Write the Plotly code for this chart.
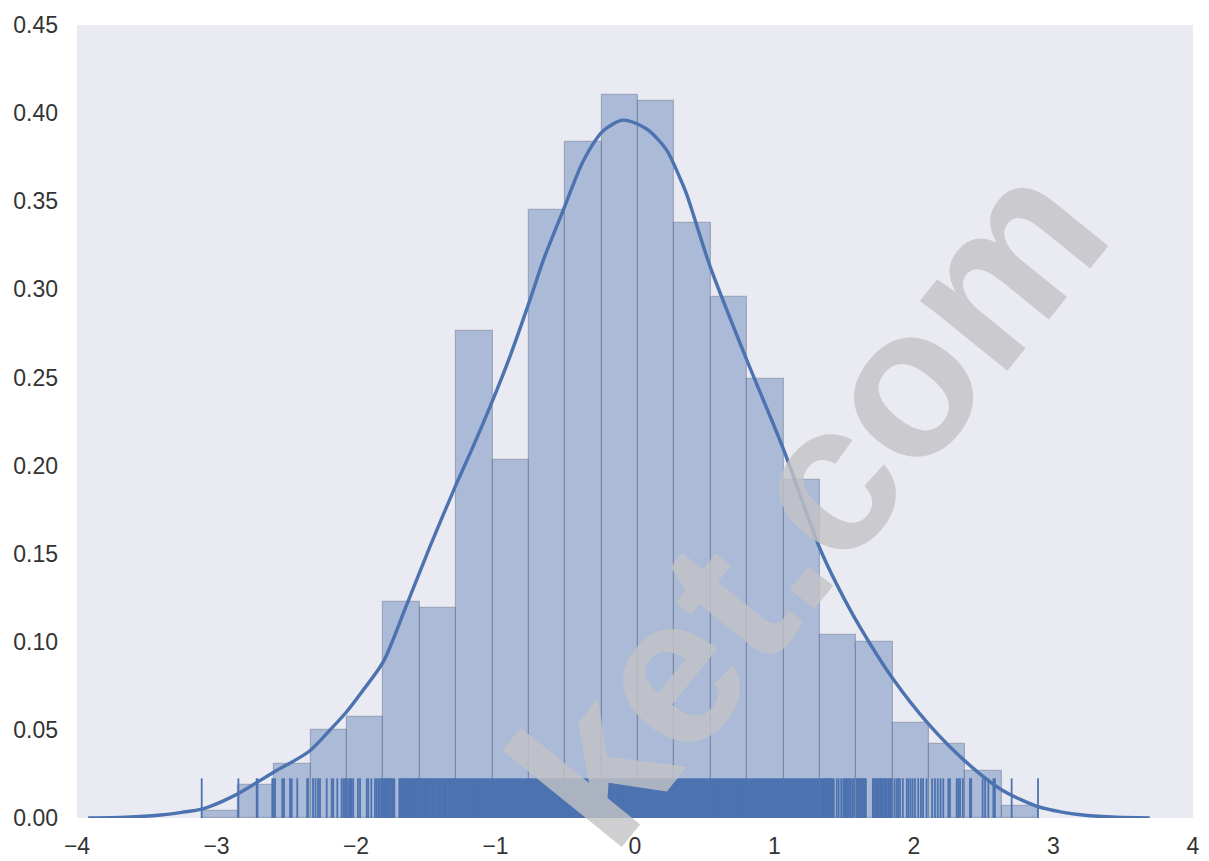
import plotly.graph_objects as go

# ---------------- data ----------------
bin_edges = [-3.106, -2.845, -2.585, -2.324, -2.063, -1.803, -1.542, -1.281, -1.021,
             -0.760, -0.499, -0.239, 0.022, 0.283, 0.543, 0.804, 1.065, 1.325,
             1.586, 1.847, 2.107, 2.368, 2.629, 2.889]
hist_density = [0.0038, 0.0190, 0.0307, 0.0499, 0.0575, 0.1227, 0.1189, 0.2762,
                 0.2033, 0.3452, 0.3836, 0.4104, 0.4066, 0.3375, 0.2954, 0.2493,
                 0.1918, 0.1036, 0.0997, 0.0537, 0.0422, 0.0268, 0.0070]

kde_x = [-3.92, -3.65, -3.40, -3.25, -3.106, -2.97, -2.84, -2.59, -2.34, -2.186,
         -2.07, -1.948, -1.804, -1.637, -1.470, -1.278, -1.159, -1.039, -0.896,
         -0.753, -0.657, -0.514, -0.37, -0.227, -0.084, 0.084, 0.227, 0.323,
         0.37, 0.538, 0.801, 1.063, 1.326, 1.45, 1.613, 1.84, 2.10, 2.37, 2.63,
         2.89, 3.05, 3.21, 3.45, 3.69]
kde_y = [0.0, 0.0004, 0.0017, 0.0032, 0.005, 0.009, 0.014, 0.026, 0.0376, 0.050,
         0.060, 0.0726, 0.0887, 0.1209, 0.154, 0.190, 0.211, 0.2334, 0.262,
         0.294, 0.3166, 0.345, 0.373, 0.390, 0.396, 0.391, 0.379, 0.363,
         0.354, 0.313, 0.260, 0.2095, 0.1528, 0.132, 0.1083, 0.080, 0.0537, 0.032,
         0.0159, 0.0064, 0.0035, 0.0017, 0.0004, 0.0]

# sparse rug ticks (tails)
rug_tails = [-3.106, -2.843, -2.712, -2.706, -2.600, -2.592, -2.580, -2.528, -2.516,
             -2.473, -2.461, -2.421, -2.350, -2.344, -2.308, -2.290, -2.272, -2.258,
             -2.210, -2.174, -2.163, -2.134, -2.103, -2.090, -2.079, -2.070, -2.065,
             -2.050, -2.040, -2.031, -2.020, -1.986, -1.971, -1.923, -1.912, -1.890,
             -1.864, -1.852, -1.840, -1.828, -1.815, -1.806,
             -1.800, -1.793, -1.786, -1.779, -1.772, -1.765, -1.757, -1.749, -1.741,
             -1.733, -1.725, -1.690, -1.683, -1.676, -1.669, -1.662, -1.655, -1.648,
             -1.641, -1.634, -1.626, -1.618, -1.610, -1.603, -1.592, -1.585, -1.578,
             -1.571, -1.564, -1.557, -1.550, -1.545,
             -1.535, -1.527, -1.519, -1.511, -1.503, -1.495, -1.487, -1.479, -1.470,
             -1.462, -1.453, -1.444, -1.436, -1.427, -1.418, -1.410, -1.401, -1.392,
             -1.384, -1.375, -1.366, -1.357, -1.349, -1.340, -1.331, -1.322, -1.314,
             -1.306, -1.298, -1.290, -1.284,
             1.330, 1.337, 1.344, 1.350, 1.357, 1.364, 1.370, 1.377, 1.384, 1.390,
             1.397, 1.404, 1.410, 1.418, 1.425, 1.446, 1.460, 1.478, 1.493, 1.500,
             1.508, 1.516, 1.525, 1.535, 1.545, 1.557, 1.570,
             1.590, 1.598, 1.605, 1.612, 1.620, 1.627, 1.634, 1.640, 1.648, 1.655,
             1.705, 1.712, 1.720, 1.730, 1.740, 1.748, 1.757, 1.765, 1.775, 1.785,
             1.795, 1.805, 1.815, 1.822, 1.830, 1.840,
             1.860, 1.875, 1.886, 1.900, 1.920, 1.948, 1.960, 1.975, 1.990, 2.007,
             2.030, 2.050, 2.065, 2.090,
             2.130, 2.150, 2.170, 2.190, 2.210, 2.246, 2.258, 2.306, 2.318, 2.330,
             2.350,
             2.401, 2.410, 2.492, 2.510, 2.533, 2.569, 2.580,
             2.700, 2.889]

# dense rug core (appears as a solid band)
rug_core = [-1.27, -1.25, -1.23, -1.21, -1.19, -1.17, -1.15, -1.13, -1.11, -1.09,
            -1.07, -1.05, -1.03, -1.01, -0.99, -0.97, -0.95, -0.93, -0.91, -0.89,
            -0.87, -0.85, -0.83, -0.81, -0.79, -0.77, -0.75, -0.73, -0.71, -0.69,
            -0.67, -0.65, -0.63, -0.61, -0.59, -0.57, -0.55, -0.53, -0.51, -0.49,
            -0.47, -0.45, -0.43, -0.41, -0.39, -0.37, -0.35, -0.33, -0.31, -0.29,
            -0.27, -0.25, -0.23, -0.21, -0.19, -0.17, -0.15, -0.13, -0.11, -0.09,
            -0.07, -0.05, -0.03, -0.01, 0.01, 0.03, 0.05, 0.07, 0.09, 0.11,
            0.13, 0.15, 0.17, 0.19, 0.21, 0.23, 0.25, 0.27, 0.29, 0.31,
            0.33, 0.35, 0.37, 0.39, 0.41, 0.43, 0.45, 0.47, 0.49, 0.51,
            0.53, 0.55, 0.57, 0.59, 0.61, 0.63, 0.65, 0.67, 0.69, 0.71,
            0.73, 0.75, 0.77, 0.79, 0.81, 0.83, 0.85, 0.87, 0.89, 0.91,
            0.93, 0.95, 0.97, 0.99, 1.01, 1.03, 1.05, 1.07, 1.09, 1.11,
            1.13, 1.15, 1.17, 1.19, 1.21, 1.23, 1.25, 1.27, 1.29, 1.31]
rug_height = 0.0225

x_ticks = [-4, -3, -2, -1, 0, 1, 2, 3, 4]
y_ticks = [0.0, 0.05, 0.10, 0.15, 0.20, 0.25, 0.30, 0.35, 0.40, 0.45]

watermark = "ket.com"

# ---------------- figure ----------------
BLUE = "#4C72B0"
FONT = "Liberation Sans, Arial, sans-serif"

centers = [(a + b) / 2 for a, b in zip(bin_edges[:-1], bin_edges[1:])]
widths = [b - a for a, b in zip(bin_edges[:-1], bin_edges[1:])]


def rug_xy(vals):
    xs, ys = [], []
    for v in vals:
        xs += [v, v, None]
        ys += [0, rug_height, None]
    return xs, ys


fig = go.Figure()
fig.add_trace(go.Bar(
    x=centers, y=hist_density, width=widths,
    marker=dict(color="rgba(76,114,176,0.40)",
                line=dict(color="rgba(110,122,150,0.50)", width=1.2)),
    hoverinfo="skip", showlegend=False))

cx, cy = rug_xy(rug_core)
fig.add_trace(go.Scatter(x=cx, y=cy, mode="lines",
                         line=dict(color=BLUE, width=3.4),
                         hoverinfo="skip", showlegend=False))
tx, ty = rug_xy(rug_tails)
fig.add_trace(go.Scatter(x=tx, y=ty, mode="lines",
                         line=dict(color=BLUE, width=1.8),
                         hoverinfo="skip", showlegend=False))

fig.add_trace(go.Scatter(x=kde_x, y=kde_y, mode="lines",
                         line=dict(color=BLUE, width=3.4, shape="spline", smoothing=0.8),
                         hoverinfo="skip", showlegend=False))

fig.add_annotation(
    text=watermark, xref="paper", yref="paper", x=0.655, y=0.40,
    xanchor="center", yanchor="middle",
    showarrow=False, textangle=-51,
    font=dict(family=FONT, size=212, color="rgba(195,195,198,0.80)", weight="bold"))

# the page body adds an 8 px offset, so the figure is 8 px smaller than the window
fig.update_layout(
    width=1201, height=853,
    margin=dict(l=69, r=16, t=17, b=43),
    paper_bgcolor="white", plot_bgcolor="#EAEAF2",
    bargap=0,
    font=dict(family=FONT, size=23, color="#333333"),
)
fig.update_xaxes(range=[-4, 4], tickvals=x_ticks, showgrid=False, zeroline=False,
                 showline=False, ticks="", ticklabelstandoff=12, automargin=False)
fig.update_yaxes(range=[0, 0.45], tickvals=y_ticks, tickformat=".2f", showgrid=False,
                 zeroline=False, showline=False, ticks="", ticklabelstandoff=18,
                 automargin=False)

fig.write_html("out.html")
